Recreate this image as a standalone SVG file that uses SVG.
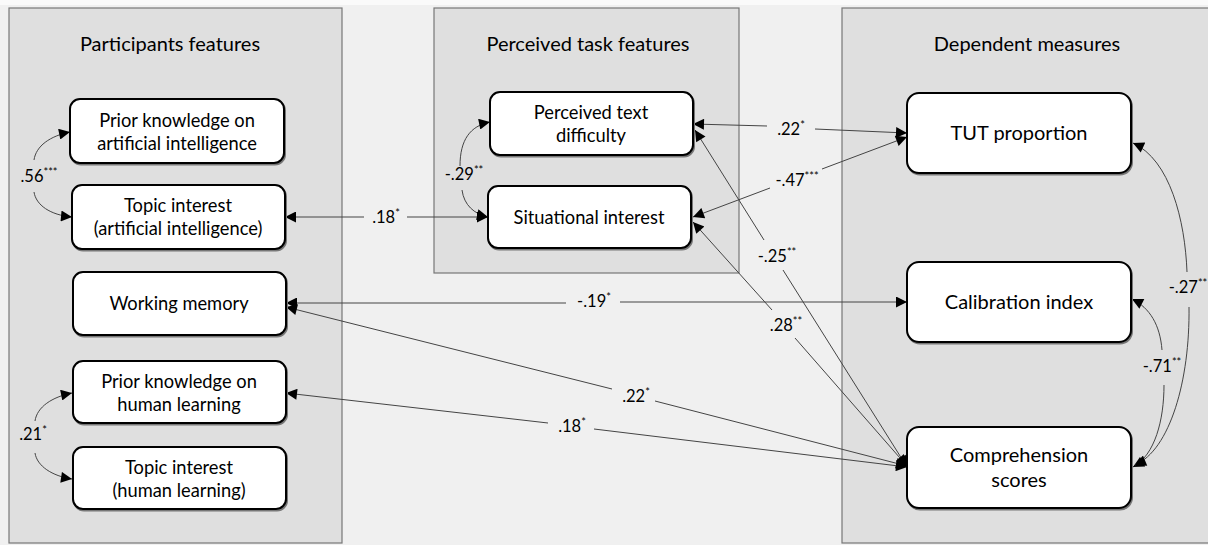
<svg xmlns="http://www.w3.org/2000/svg" width="1208" height="545" viewBox="0 0 1208 545">
<defs>
<marker id="ah" viewBox="0 0 10 10" refX="10" refY="5" markerWidth="13" markerHeight="11" markerUnits="userSpaceOnUse" orient="auto-start-reverse">
<path d="M0,0 L10,5 L0,10 z" fill="#000"/>
</marker>
</defs>
<style>
text{font-family:Lato,"Liberation Sans",sans-serif;fill:#000;text-anchor:middle}
.title{font-size:20px}
.nt{font-size:18.3px}
.nb{font-size:20px}
.lb{font-size:16.5px}
.sup{font-size:11px}
.panel{fill:#dfdfdf;stroke:#777;stroke-width:1.2}
.node{fill:#fff;stroke:#000;stroke-width:2}
.shadow{fill:none;stroke:#777;stroke-width:2}
.c{fill:none;stroke:#444;stroke-width:1}
.s{marker-start:url(#ah)}
.e{marker-end:url(#ah)}
</style>
<rect x="0" y="0" width="1208" height="545" fill="#f0f0f0"/>
<rect x="0" y="0" width="1208" height="5" fill="#fafafa"/>
<g id="panel-participants">
<rect class="panel" x="9" y="8" width="333" height="535"/>
<text class="title" x="170" y="51">Participants features</text>
</g>
<g id="panel-task">
<rect class="panel" x="434" y="8" width="305" height="265"/>
<text class="title" x="588" y="51">Perceived task features</text>
</g>
<g id="panel-dependent">
<rect class="panel" x="842" y="8" width="380" height="535"/>
<text class="title" x="1027" y="51">Dependent measures</text>
</g>
<g id="connectors">
<path class="c s" d="M70,132 C50,136 36,146 34,160"/>
<path class="c e" d="M34,192 C36,205 50,215 72,217"/>
<path class="c s" d="M72,393 C52,397 37,407 35,421"/>
<path class="c e" d="M35,453 C37,466 52,476 72,479"/>
<path class="c s" d="M490,122 C470,126 460,140 460,166"/>
<path class="c e" d="M462,190 C464,205 474,214 488,217"/>
<path class="c s" d="M285,217 L364,217"/>
<path class="c e" d="M407,217 L488,217"/>
<path class="c s" d="M286,303 L566,303"/>
<path class="c e" d="M620,302 L907,302"/>
<path class="c s" d="M286,307 L612,389"/>
<path class="c e" d="M655,401 L907,466"/>
<path class="c s" d="M286,393 L548,423"/>
<path class="c e" d="M594,429 L907,467"/>
<path class="c s" d="M693,124 L767,126"/>
<path class="c e" d="M815,129 L907,133"/>
<path class="c s" d="M907,137 L822,169"/>
<path class="c e" d="M770,188 L693,217"/>
<path class="c s" d="M695,130 L764,240"/>
<path class="c e" d="M783,270 L907,467"/>
<path class="c s" d="M693,222 L772,310"/>
<path class="c e" d="M795,338 L907,466"/>
<path class="c s" d="M1132,299 C1150,308 1160,325 1162,350"/>
<path class="c e" d="M1164,385 C1164,420 1155,455 1133,467"/>
<path class="c s" d="M1133,143 C1170,160 1185,220 1187,272"/>
<path class="c e" d="M1189,307 C1190,380 1170,450 1135,465"/>
<text class="lb" x="39" y="182">.56<tspan class="sup" dy="-6">***</tspan></text>
<text class="lb" x="33" y="440">.21<tspan class="sup" dy="-6">*</tspan></text>
<text class="lb" x="464" y="180">-.29<tspan class="sup" dy="-6">**</tspan></text>
<text class="lb" x="386" y="223">.18<tspan class="sup" dy="-6">*</tspan></text>
<text class="lb" x="594" y="307">-.19<tspan class="sup" dy="-6">*</tspan></text>
<text class="lb" x="636" y="402">.22<tspan class="sup" dy="-6">*</tspan></text>
<text class="lb" x="572" y="432">.18<tspan class="sup" dy="-6">*</tspan></text>
<text class="lb" x="786" y="331">.28<tspan class="sup" dy="-6">**</tspan></text>
<text class="lb" x="777" y="262">-.25<tspan class="sup" dy="-6">**</tspan></text>
<text class="lb" x="791" y="135">.22<tspan class="sup" dy="-6">*</tspan></text>
<text class="lb" x="797" y="186">-.47<tspan class="sup" dy="-6">***</tspan></text>
<text class="lb" x="1162" y="372">-.71<tspan class="sup" dy="-6">**</tspan></text>
<text class="lb" x="1188" y="293">-.27<tspan class="sup" dy="-6">**</tspan></text>
</g>
<g id="node-prior-ai">
<rect class="shadow" x="71" y="100.5" width="214" height="64" rx="10"/>
<rect class="node" x="70" y="99" width="214" height="64" rx="10"/>
<text class="nt" x="177" y="127">Prior knowledge on</text>
<text class="nt" x="177" y="150">artificial intelligence</text>
</g>
<g id="node-topic-ai">
<rect class="shadow" x="73" y="186.5" width="213" height="64" rx="10"/>
<rect class="node" x="72" y="185" width="213" height="64" rx="10"/>
<text class="nt" x="178" y="212">Topic interest</text>
<text class="nt" x="178" y="235">(artificial intelligence)</text>
</g>
<g id="node-working-memory">
<rect class="shadow" x="74" y="273.5" width="213" height="63" rx="10"/>
<rect class="node" x="73" y="272" width="213" height="63" rx="10"/>
<text class="nt" x="179" y="310">Working memory</text>
</g>
<g id="node-prior-hl">
<rect class="shadow" x="74" y="362.5" width="213" height="62" rx="10"/>
<rect class="node" x="73" y="361" width="213" height="62" rx="10"/>
<text class="nt" x="179" y="388">Prior knowledge on</text>
<text class="nt" x="179" y="411">human learning</text>
</g>
<g id="node-topic-hl">
<rect class="shadow" x="74" y="448.5" width="213" height="62" rx="10"/>
<rect class="node" x="73" y="447" width="213" height="62" rx="10"/>
<text class="nt" x="179" y="474">Topic interest</text>
<text class="nt" x="179" y="497">(human learning)</text>
</g>
<g id="node-text-difficulty">
<rect class="shadow" x="491" y="93.5" width="203" height="63" rx="10"/>
<rect class="node" x="490" y="92" width="203" height="63" rx="10"/>
<text class="nt" x="591" y="119">Perceived text</text>
<text class="nt" x="591" y="142">difficulty</text>
</g>
<g id="node-situational">
<rect class="shadow" x="489" y="187.5" width="203" height="62" rx="10"/>
<rect class="node" x="488" y="186" width="203" height="62" rx="10"/>
<text class="nt" x="589" y="224">Situational interest</text>
</g>
<g id="node-tut">
<rect class="shadow" x="908" y="94.5" width="224" height="80" rx="12"/>
<rect class="node" x="907" y="93" width="224" height="80" rx="12"/>
<text class="nb" x="1019" y="140">TUT proportion</text>
</g>
<g id="node-calibration">
<rect class="shadow" x="908" y="263.5" width="224" height="80" rx="12"/>
<rect class="node" x="907" y="262" width="224" height="80" rx="12"/>
<text class="nb" x="1019" y="309">Calibration index</text>
</g>
<g id="node-comprehension">
<rect class="shadow" x="908" y="428.5" width="224" height="81" rx="12"/>
<rect class="node" x="907" y="427" width="224" height="81" rx="12"/>
<text class="nb" x="1019" y="462">Comprehension</text>
<text class="nb" x="1019" y="487">scores</text>
</g>
</svg>
